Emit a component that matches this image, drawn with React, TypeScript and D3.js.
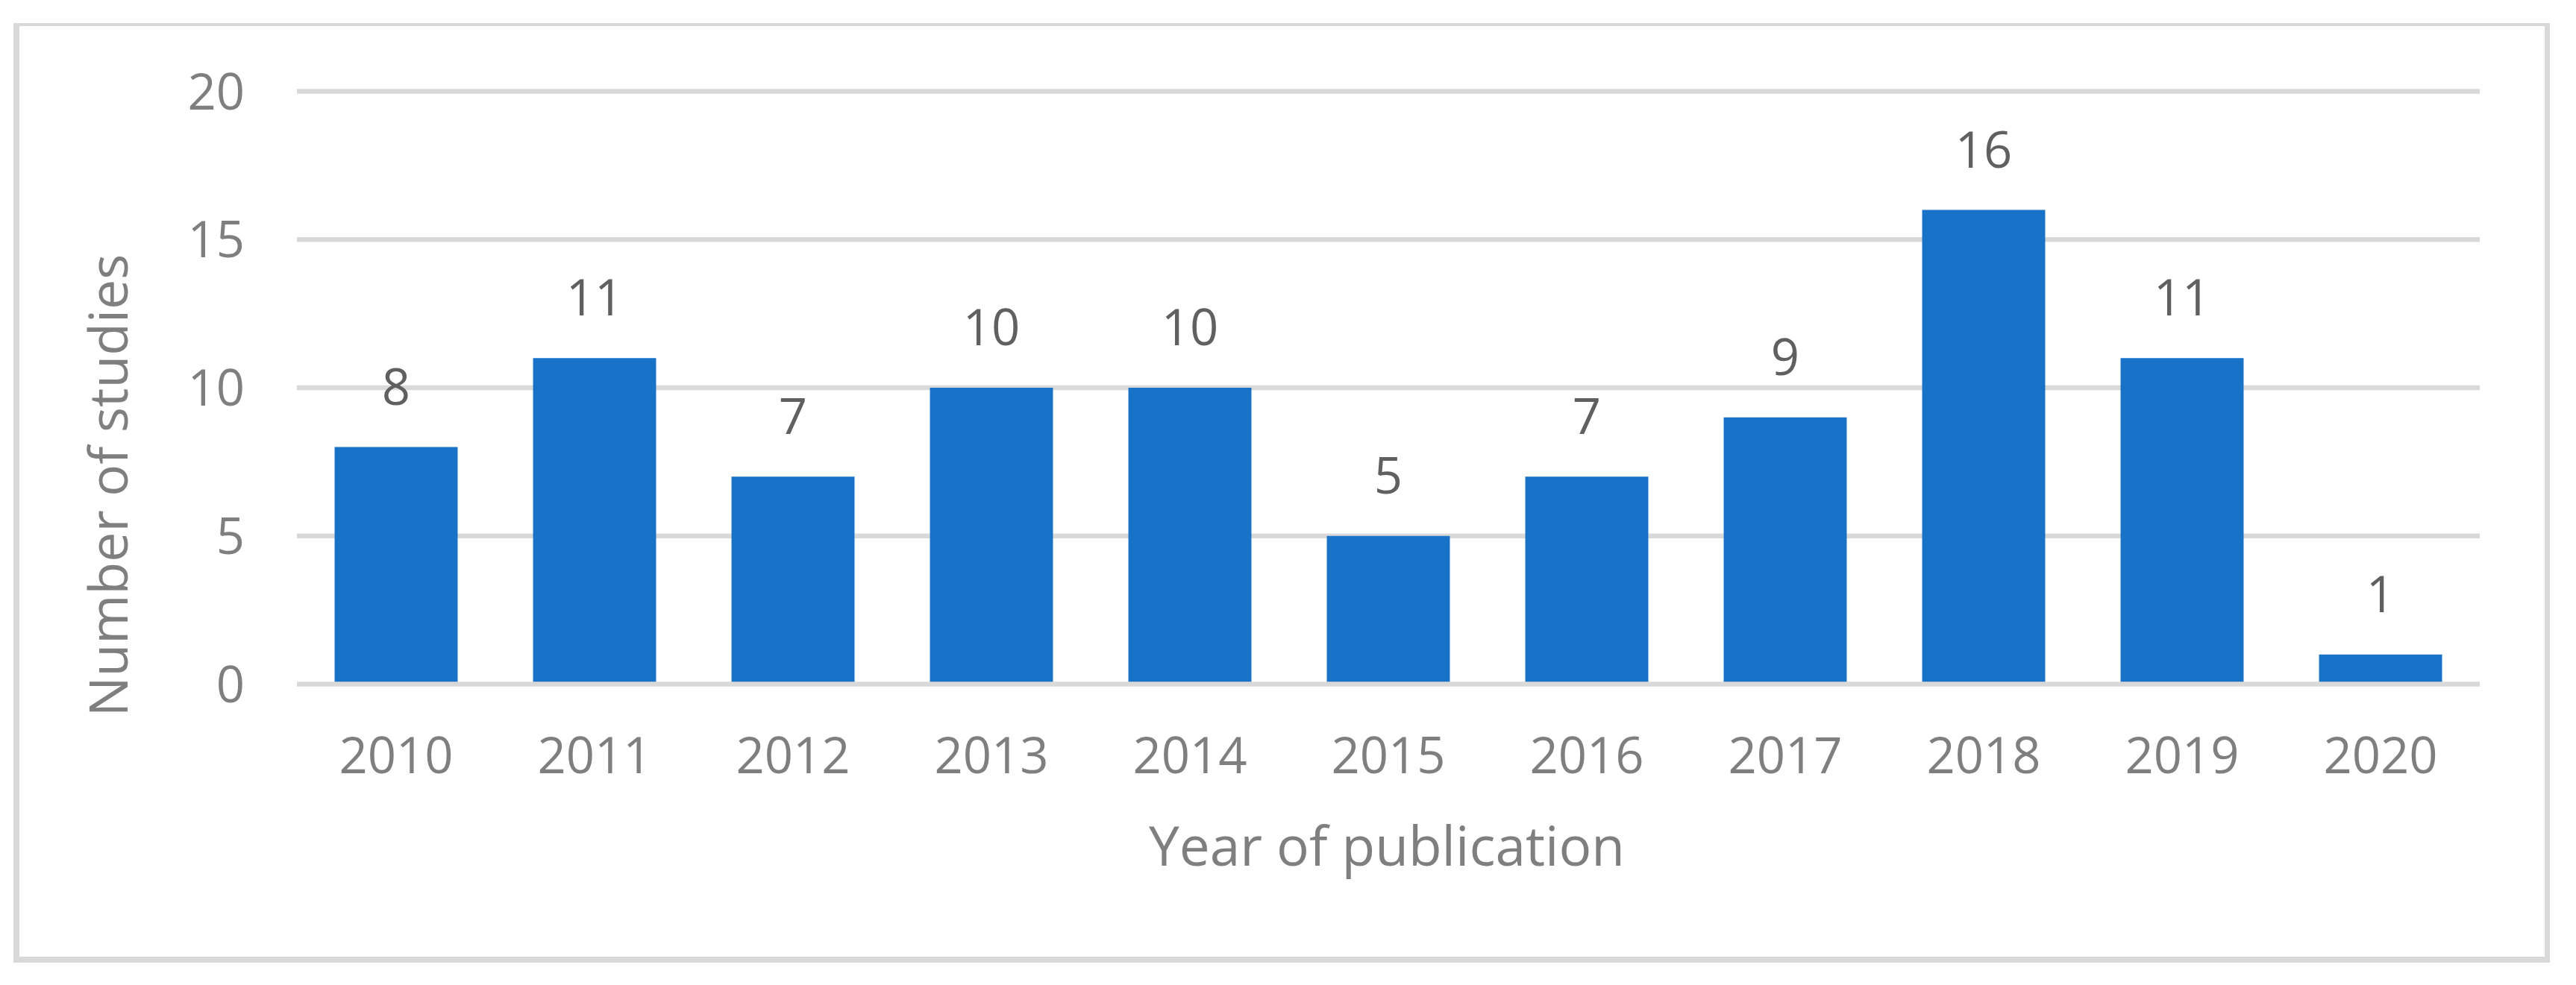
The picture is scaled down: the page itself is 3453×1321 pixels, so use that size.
import React, { useEffect } from "react";
import * as d3 from "d3";

const years = ["2010", "2011", "2012", "2013", "2014", "2015", "2016", "2017", "2018", "2019", "2020"];
const studies = [8, 11, 7, 10, 10, 5, 7, 9, 16, 11, 1];
const yTicks = [0, 5, 10, 15, 20];
const xTitle = "Year of publication";
const yTitle = "Number of studies";

const W = 3453;
const H = 1321;
const FONT = "'Open Sans', 'Noto Sans', sans-serif";
const GRID = "#d9d9d9";
const BAR = "#1873c8";
const TICK = "#7f7f7f";
const LABEL = "#606060";

export default function App() {
  useEffect(() => {
    document.body.style.margin = "0";
  }, []);

  const x = d3.scaleBand<string>().domain(years).range([398, 3324]).paddingInner(0.38).paddingOuter(0.19);
  const y = d3.scaleLinear().domain([0, 20]).range([917.5, 122.5]);
  const [x0, x1] = x.range();

  return (
    <svg width={W} height={H} viewBox={`0 0 ${W} ${H}`} style={{ display: "block", background: "#fff" }}>
      <rect x={0} y={0} width={W} height={H} fill="#fff" />
      {/* frame */}
      <line x1={18} x2={3418} y1={33} y2={33} stroke={GRID} strokeWidth={4} />
      <line x1={22} x2={22} y1={31} y2={1291} stroke={GRID} strokeWidth={8} />
      <line x1={3414.5} x2={3414.5} y1={31} y2={1291} stroke={GRID} strokeWidth={7} />
      <line x1={18} x2={3418} y1={1287} y2={1287} stroke={GRID} strokeWidth={8} />

      {/* gridlines */}
      {yTicks.filter((t) => t !== 0).map((t) => (
        <line key={t} x1={x0} x2={x1} y1={y(t)} y2={y(t)} stroke={GRID} strokeWidth={6.7} />
      ))}

      {/* bars */}
      {years.map((yr, i) => (
        <rect key={yr} x={x(yr)} y={y(studies[i])} width={x.bandwidth()} height={y(0) - y(studies[i])} fill={BAR} />
      ))}

      {/* baseline */}
      <line x1={x0} x2={x1} y1={y(0)} y2={y(0)} stroke={GRID} strokeWidth={6.7} />

      {/* data labels */}
      {years.map((yr, i) => (
        <text key={yr} x={(x(yr) as number) + x.bandwidth() / 2} y={y(studies[i]) - 57} textAnchor="middle"
          fontFamily={FONT} fontSize={67} fill={LABEL}>
          {studies[i]}
        </text>
      ))}

      {/* y tick labels */}
      {yTicks.map((t) => (
        <text key={t} x={328} y={y(t) + 24} textAnchor="end" fontFamily={FONT} fontSize={67} fill={TICK}>
          {t}
        </text>
      ))}

      {/* x tick labels */}
      {years.map((yr) => (
        <text key={yr} x={(x(yr) as number) + x.bandwidth() / 2} y={1037} textAnchor="middle"
          fontFamily={FONT} fontSize={67} fill={TICK}>
          {yr}
        </text>
      ))}

      {/* axis titles */}
      <text x={1859} y={1161} textAnchor="middle" fontFamily={FONT} fontSize={73} fill={TICK}>
        {xTitle}
      </text>
      <text transform={`translate(171, 651) rotate(-90)`} textAnchor="middle" fontFamily={FONT} fontSize={71.5} fill={TICK}>
        {yTitle}
      </text>
    </svg>
  );
}
